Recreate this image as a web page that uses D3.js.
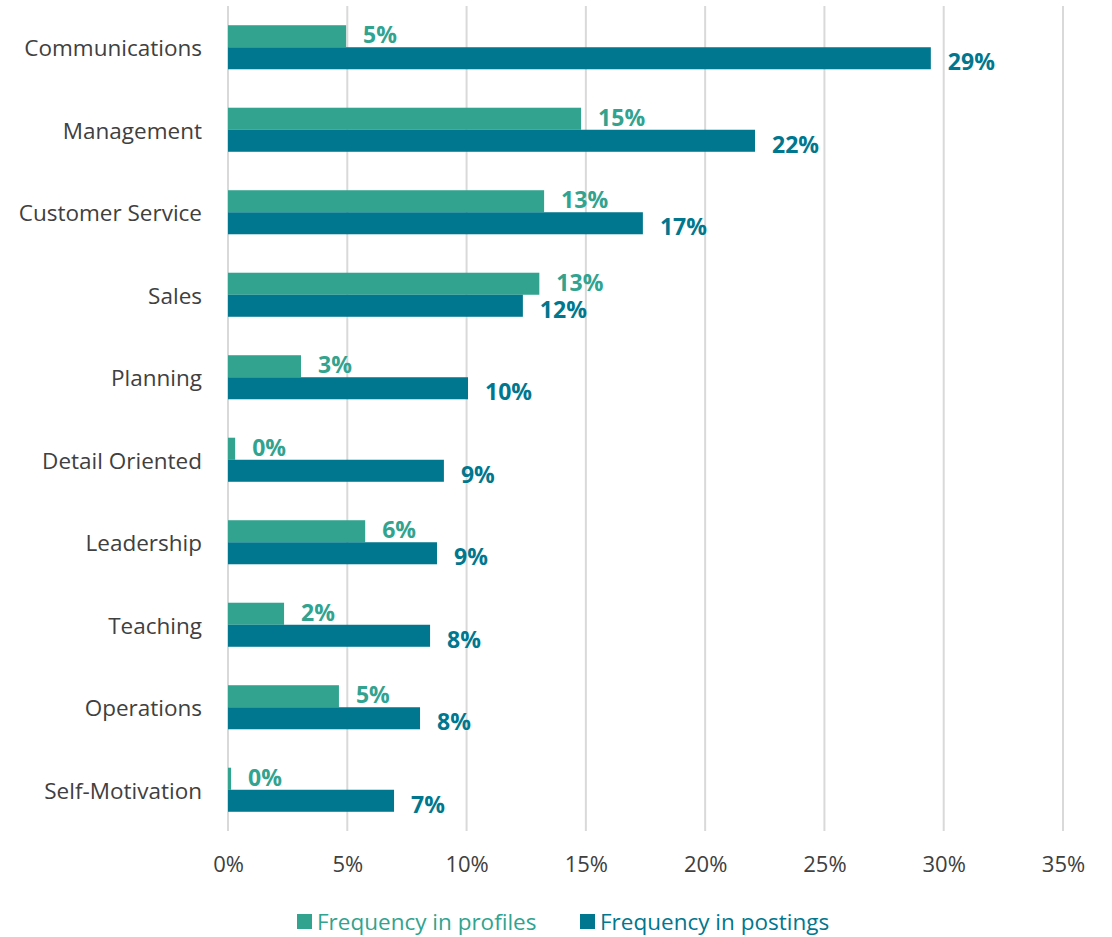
<!DOCTYPE html>
<html>
<head>
<meta charset="utf-8">
<script src="https://cdn.jsdelivr.net/npm/d3@7"></script>
<style>
  html, body { margin: 0; padding: 0; background: #fff; }
  svg { display: block; font-family: "Open Sans", "Noto Sans", sans-serif; }
</style>
</head>
<body>
<svg id="chart" width="1112" height="937"></svg>
<script>
// Skills: share of profiles vs share of job postings mentioning each skill
const categories = ["Communications", "Management", "Customer Service", "Sales", "Planning",
  "Detail Oriented", "Leadership", "Teaching", "Operations", "Self-Motivation"];
const profiles = [0.0495, 0.148, 0.1325, 0.1305, 0.0306, 0.003, 0.0575, 0.0235, 0.0465, 0.0013];
const postings = [0.2946, 0.2209, 0.1739, 0.1236, 0.1006, 0.0905, 0.0876, 0.0847, 0.0805, 0.0696];
const seriesNames = ["Frequency in profiles", "Frequency in postings"];
const xTicks = [0, 0.05, 0.10, 0.15, 0.20, 0.25, 0.30, 0.35];

const colors = ["#31a38f", "#00778e"];
const FONT = "Open Sans, Noto Sans, sans-serif";
const svg = d3.select("#chart");
const margin = { top: 6, right: 49, bottom: 106, left: 228 };
const W = 1112, H = 937;
const innerW = W - margin.left - margin.right;
const innerH = H - margin.top - margin.bottom;

const x = d3.scaleLinear().domain([0, 0.35]).range([margin.left, margin.left + innerW]);
const y = d3.scaleBand().domain(categories).range([margin.top, margin.top + innerH]).paddingInner(0.466).paddingOuter(0.233);
const sub = d3.scaleBand().domain([0, 1]).range([0, y.bandwidth()]);

// vertical gridlines
svg.append("g").selectAll("line").data(xTicks).join("line")
  .attr("x1", d => x(d)).attr("x2", d => x(d))
  .attr("y1", margin.top).attr("y2", margin.top + innerH)
  .attr("stroke", "#d9d9d9").attr("stroke-width", 2);

// x axis labels
const xAxis = d3.axisBottom(x).tickValues(xTicks).tickFormat(d3.format(".0%")).tickSize(0).tickPadding(0);
const gx = svg.append("g").attr("transform", `translate(0,${margin.top + innerH + 41})`).call(xAxis);
gx.select(".domain").remove();
gx.selectAll("text").attr("font-size", 22).attr("fill", "#404040").attr("font-family", FONT).attr("dy", "0");

// y axis labels
const yAxis = d3.axisLeft(y).tickSize(0).tickPadding(26);
const gy = svg.append("g").attr("transform", `translate(${margin.left},2)`).call(yAxis);
gy.select(".domain").remove();
gy.selectAll("text").attr("font-size", 22.5).attr("fill", "#404040").attr("font-family", FONT);

const rows = categories.map((c, i) => ({ c, vals: [profiles[i], postings[i]] }));
const fmt = d3.format(".0%");

const g = svg.append("g").selectAll("g").data(rows).join("g")
  .attr("transform", d => `translate(0,${y(d.c)})`);

g.selectAll("rect").data(d => d.vals).join("rect")
  .attr("x", x(0))
  .attr("y", (d, i) => sub(i))
  .attr("width", d => x(d) - x(0))
  .attr("height", sub.bandwidth())
  .attr("fill", (d, i) => colors[i]);

g.selectAll("text.val").data(d => d.vals).join("text")
  .attr("class", "val")
  .attr("x", d => x(d) + 17)
  .attr("y", (d, i) => sub(i) + sub.bandwidth() / 2 + (i === 0 ? -1 : 4))
  .attr("dy", "0.35em")
  .attr("font-size", 23).attr("font-weight", "bold")
  .attr("font-family", FONT)
  .attr("fill", (d, i) => colors[i])
  .text(d => fmt(d));

// legend
const legend = svg.append("g");
const lx = [297, 580];
seriesNames.forEach((name, i) => {
  legend.append("rect").attr("x", lx[i]).attr("y", 914).attr("width", 15).attr("height", 15).attr("fill", colors[i]);
  legend.append("text").attr("x", lx[i] + 20).attr("y", 922).attr("dy", "0.35em")
    .attr("font-size", 22.5).attr("font-family", FONT).attr("fill", colors[i]).text(name);
});
</script>
</body>
</html>
